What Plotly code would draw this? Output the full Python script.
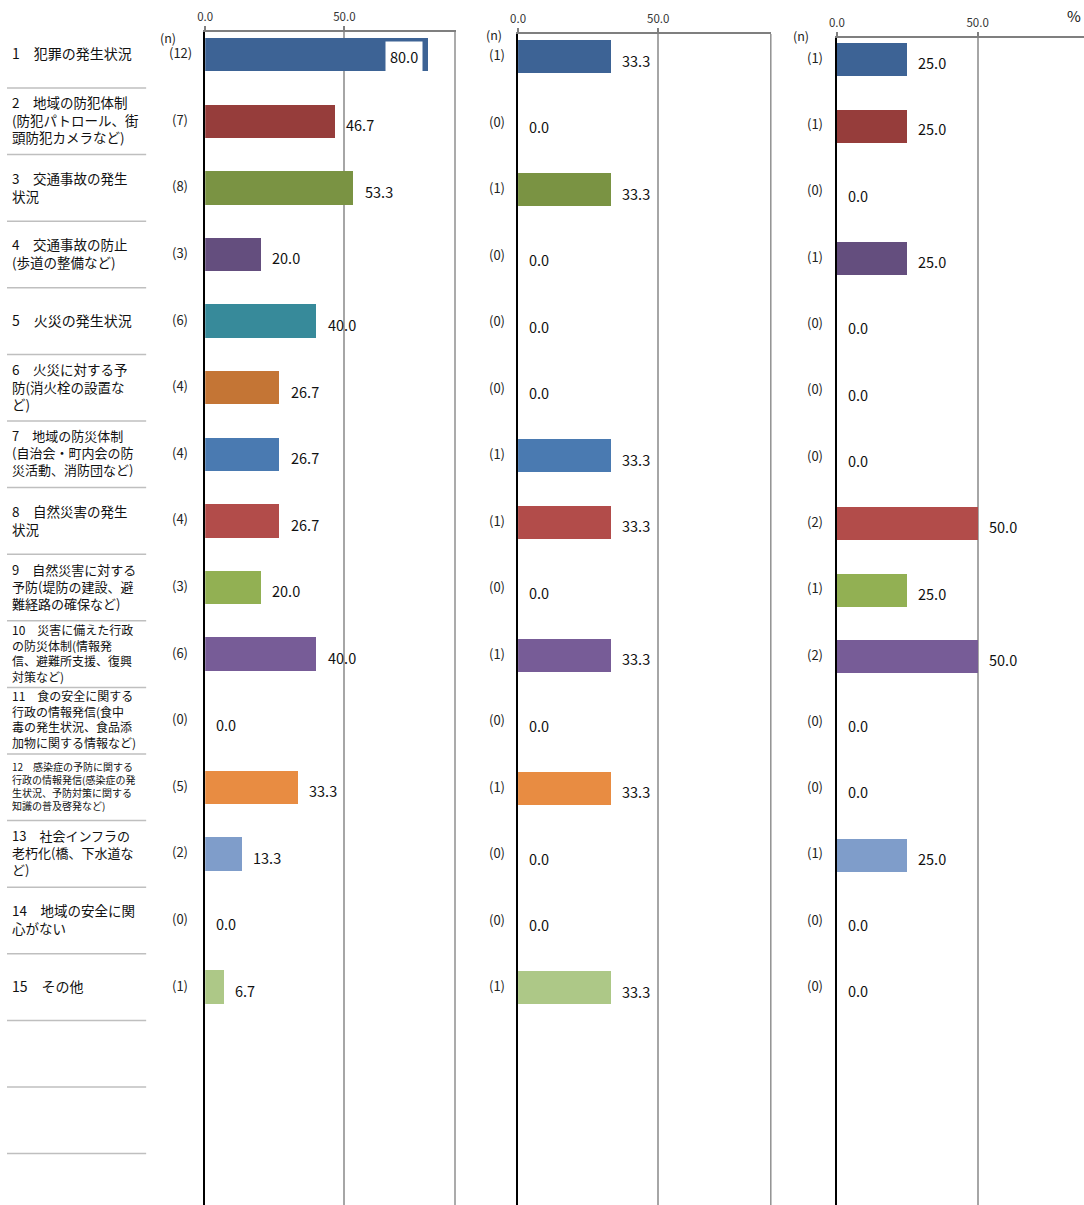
import plotly.graph_objects as go

# ---------------- data ----------------
categories = [
    "1　犯罪の発生状況",
    "2　地域の防犯体制<br>(防犯パトロール、街<br>頭防犯カメラなど)",
    "3　交通事故の発生<br>状況",
    "4　交通事故の防止<br>(歩道の整備など)",
    "5　火災の発生状況",
    "6　火災に対する予<br>防(消火栓の設置な<br>ど)",
    "7　地域の防災体制<br>(自治会・町内会の防<br>災活動、消防団など)",
    "8　自然災害の発生<br>状況",
    "9　自然災害に対する<br>予防(堤防の建設、避<br>難経路の確保など)",
    "10　災害に備えた行政<br>の防災体制(情報発<br>信、避難所支援、復興<br>対策など)",
    "11　食の安全に関する<br>行政の情報発信(食中<br>毒の発生状況、食品添<br>加物に関する情報など)",
    "12　感染症の予防に関する<br>行政の情報発信(感染症の発<br>生状況、予防対策に関する<br>知識の普及啓発など)",
    "13　社会インフラの<br>老朽化(橋、下水道な<br>ど)",
    "14　地域の安全に関<br>心がない",
    "15　その他",
]
label_sizes = [14, 13.5, 13.5, 13.5, 14, 13.5, 13, 13.5, 13, 12, 12, 10, 13, 13.5, 14]

pct1 = [80.0, 46.7, 53.3, 20.0, 40.0, 26.7, 26.7, 26.7, 20.0, 40.0, 0.0, 33.3, 13.3, 0.0, 6.7]
n1 = [12, 7, 8, 3, 6, 4, 4, 4, 3, 6, 0, 5, 2, 0, 1]
pct2 = [33.3, 0.0, 33.3, 0.0, 0.0, 0.0, 33.3, 33.3, 0.0, 33.3, 0.0, 33.3, 0.0, 0.0, 33.3]
n2 = [1, 0, 1, 0, 0, 0, 1, 1, 0, 1, 0, 1, 0, 0, 1]
pct3 = [25.0, 25.0, 0.0, 25.0, 0.0, 0.0, 0.0, 50.0, 25.0, 50.0, 0.0, 0.0, 25.0, 0.0, 0.0]
n3 = [1, 1, 0, 1, 0, 0, 0, 2, 1, 2, 0, 0, 1, 0, 0]

bar_colors = ["#3D6395", "#963D3B", "#7A9343", "#644E7E", "#378A9A", "#C47535",
              "#4A7AB1", "#B24C4A", "#92B053", "#775C97", "#D8843C", "#E88C42",
              "#7F9DCA", "#C5504E", "#ADC887"]

tick_vals = [0, 50]
tick_text = ["0.0", "50.0"]

# ---------------- layout constants ----------------
W, H = 1084, 1205
FONT = "Noto Sans CJK JP"
rows = list(range(len(categories)))

# horizontal calibration of target pixel -> figure pixel
XOFF, XSCALE = 8.0, 0.9915


def fx(x):
    return (x - XOFF) / XSCALE


def px(x):
    return fx(x) / W


def py(y):
    return 1 - y / H


panels = [
    dict(x0=205, x1=455, top=32, c0=54.7, s=66.6, pct=pct1, n=n1, nx=180, nhead=(168, 37), border=True),
    dict(x0=517.5, x1=770.5, top=34, c0=56.8, s=66.5, pct=pct2, n=n2, nx=496, nhead=(493, 34), border=True),
    dict(x0=836, x1=None, top=37.5, c0=59.3, s=66.3, pct=pct3, n=n3, nx=814, nhead=(800, 35), border=False),
]
PX_PER_50 = [139.0, 140.0, 140.5]

fig = go.Figure()
annotations = []
shapes = []

for k, p in enumerate(panels):
    sfx = "" if k == 0 else str(k + 1)
    xa, ya = "x" + sfx, "y" + sfx
    fig.add_trace(go.Bar(
        x=p["pct"], y=rows, orientation="h", width=0.5,
        marker=dict(color=bar_colors, line=dict(width=0)),
        xaxis=xa, yaxis=ya, hoverinfo="skip", showlegend=False,
    ))
    d0 = fx(p["x0"])
    d1 = fx(p["x1"]) if p["x1"] is not None else W
    unit = (fx(p["x0"] + PX_PER_50[k]) - d0) / 50.0
    xmax = (d1 - d0) / unit
    ybot = (H - p["c0"]) / p["s"]
    ytop = (p["top"] - p["c0"]) / p["s"]
    fig.layout["xaxis" + sfx] = dict(
        domain=[d0 / W, d1 / W], range=[0, xmax], anchor=ya,
        side="top", tickvals=tick_vals, ticktext=tick_text,
        showline=True, linecolor="#7F7F7F", linewidth=2,
        ticks="outside", ticklen=4, tickcolor="#7F7F7F", tickwidth=1.5,
        ticklabelstandoff=0,
        showgrid=True, gridcolor="#A6A6A6", gridwidth=1.5, zeroline=False,
        tickfont=dict(family=FONT, size=11.5, color="#333333"), fixedrange=True,
    )
    fig.layout["yaxis" + sfx] = dict(
        domain=[0, py(p["top"])], range=[ybot, ytop], anchor=xa,
        showline=True, linecolor="#000000", linewidth=1.5,
        showticklabels=False, ticks="", showgrid=False, zeroline=False, fixedrange=True,
    )
    if p["border"]:
        shapes.append(dict(type="line", xref=xa, yref=ya + " domain",
                           x0=xmax, x1=xmax, y0=0, y1=1,
                           line=dict(color="#595959", width=2)))
    annotations.append(dict(text="(n)", xref="paper", yref="paper",
                            x=px(p["nhead"][0]), y=py(p["nhead"][1]),
                            xanchor="center", yanchor="middle", showarrow=False,
                            font=dict(family=FONT, size=12.5, color="#222222")))
    for i in rows:
        v = p["pct"][i]
        annotations.append(dict(text="(%d)" % p["n"][i], xref="paper", yref=ya,
                                x=px(p["nx"]), y=i - 0.03, xanchor="center", yanchor="middle",
                                showarrow=False, font=dict(family=FONT, size=13, color="#222222")))
        if k == 0 and v >= 70:
            annotations.append(dict(text="%.1f" % v, xref=xa, yref=ya, x=v, y=i + 0.02,
                                    xanchor="right", yanchor="middle", xshift=-5,
                                    showarrow=False, bgcolor="#FFFFFF", borderpad=4,
                                    font=dict(family=FONT, size=14.5, color="#111111")))
        else:
            annotations.append(dict(text="%.1f" % v, xref=xa, yref=ya, x=v, y=i + 0.05,
                                    xanchor="left", yanchor="middle", xshift=9,
                                    showarrow=False,
                                    font=dict(family=FONT, size=14.5, color="#111111")))

for i in rows:
    annotations.append(dict(text=categories[i], xref="paper", yref="y", x=px(10), y=i - 0.02,
                            xanchor="left", yanchor="middle", align="left", showarrow=False,
                            font=dict(family=FONT, size=label_sizes[i], color="#111111")))
for j in range(17):
    shapes.append(dict(type="line", xref="paper", yref="y", x0=px(7), x1=px(146),
                       y0=j + 0.5, y1=j + 0.5, line=dict(color="#BFBFBF", width=1.5)))

annotations.append(dict(text="%", xref="paper", yref="paper", x=px(1073), y=py(16),
                        xanchor="center", yanchor="middle", showarrow=False,
                        font=dict(family=FONT, size=15, color="#111111")))

fig.update_layout(
    width=W, height=H, margin=dict(l=0, r=0, t=0, b=0),
    paper_bgcolor="#FFFFFF", plot_bgcolor="rgba(0,0,0,0)",
    annotations=annotations, shapes=shapes, bargap=0,
    font=dict(family=FONT),
)

fig.write_html("out.html", config={"displayModeBar": False},
               post_script="document.body.style.margin='0px';document.body.style.overflow='hidden';")
